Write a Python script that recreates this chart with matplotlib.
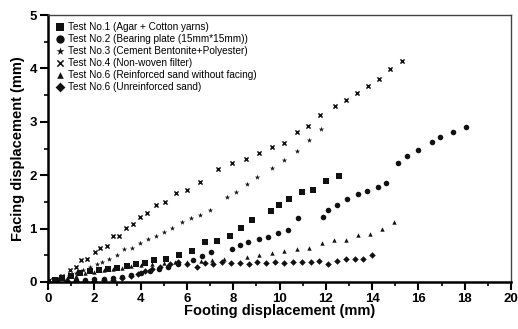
import matplotlib
matplotlib.use("Agg")
import matplotlib.pyplot as plt
from matplotlib.ticker import MultipleLocator

plt.rcParams['font.family'] = ['Liberation Sans', 'DejaVu Sans']

labels = [
    "Test No.1 (Agar + Cotton yarns)",
    "Test No.2 (Bearing plate (15mm*15mm))",
    "Test No.3 (Cement Bentonite+Polyester)",
    "Test No.4 (Non-woven filter)",
    "Test No.6 (Reinforced sand without facing)",
    "Test No.6 (Unreinforced sand)",
]

t1_x = [0, 0.3, 0.6, 1.0, 1.4, 1.8, 2.2, 2.6, 3.0, 3.4, 3.79, 4.2, 4.58, 5.1, 5.68, 6.23,
        6.80, 7.31, 7.85, 8.32, 8.81, 9.63, 9.99, 10.43, 10.97, 11.43, 12.01, 12.58]
t1_y = [0, 0.03, 0.07, 0.12, 0.17, 0.2, 0.22, 0.25, 0.27, 0.3, 0.33, 0.36, 0.41, 0.43, 0.51, 0.58,
        0.74, 0.77, 0.86, 1.01, 1.17, 1.33, 1.45, 1.55, 1.69, 1.73, 1.89, 1.98]

t2_x = [0, 0.4, 0.8, 1.2, 1.6, 2.0, 2.4, 2.8, 3.2, 3.6, 4.0, 4.4, 4.8, 5.2, 5.6, 6.25, 6.64,
        7.03, 7.95, 8.28, 8.66, 9.1, 9.52, 9.94, 10.38, 10.81, 11.89, 12.11, 12.47, 12.9, 13.38,
        13.77, 14.24, 14.6, 15.13, 15.51, 15.98, 16.6, 16.95, 17.51, 18.04]
t2_y = [0, 0.01, 0.02, 0.03, 0.04, 0.05, 0.06, 0.08, 0.1, 0.13, 0.16, 0.2, 0.25, 0.29, 0.34, 0.42, 0.48,
        0.56, 0.62, 0.69, 0.74, 0.80, 0.84, 0.92, 0.98, 1.19, 1.22, 1.34, 1.45, 1.55, 1.64,
        1.70, 1.78, 1.86, 2.23, 2.36, 2.47, 2.63, 2.71, 2.80, 2.90]

t3_x = [0, 0.3, 0.6, 0.9, 1.2, 1.5, 1.8, 2.1, 2.35, 2.62, 2.97, 3.30, 3.63, 3.99, 4.33, 4.67, 5.0,
        5.37, 5.78, 6.16, 6.57, 6.99, 7.72, 8.10, 8.60, 9.04, 9.69, 10.19, 10.74, 11.29, 11.79]
t3_y = [0, 0.04, 0.08, 0.12, 0.17, 0.22, 0.28, 0.33, 0.38, 0.44, 0.50, 0.61, 0.64, 0.73, 0.81, 0.86, 0.94,
        1.01, 1.12, 1.19, 1.25, 1.35, 1.60, 1.69, 1.83, 1.97, 2.14, 2.28, 2.45, 2.66, 2.86]

t4_x = [0, 0.2, 0.4, 0.6, 0.95, 1.21, 1.44, 1.70, 2.03, 2.25, 2.54, 2.82, 3.08, 3.37, 3.69, 3.97,
        4.28, 4.65, 5.04, 5.52, 5.99, 6.55, 7.36, 7.94, 8.57, 9.10, 9.69, 10.19, 10.74, 11.24,
        11.75, 12.38, 12.86, 13.36, 13.84, 14.28, 14.79, 15.28]
t4_y = [0, 0.03, 0.06, 0.12, 0.23, 0.28, 0.42, 0.43, 0.56, 0.64, 0.67, 0.86, 0.86, 1.01, 1.09, 1.21,
        1.29, 1.44, 1.49, 1.66, 1.73, 1.88, 2.12, 2.22, 2.31, 2.41, 2.52, 2.61, 2.81, 2.93,
        3.12, 3.29, 3.41, 3.54, 3.67, 3.80, 3.98, 4.14]

t5_x = [0, 0.4, 0.8, 1.2, 1.6, 2.0, 2.4, 2.8, 3.2, 3.6, 4.0, 4.5, 5.0, 5.5, 6.0, 6.6, 7.1, 7.6,
        8.58, 9.11, 9.66, 10.2, 10.74, 11.27, 11.82, 12.35, 12.87, 13.39, 13.91, 14.44, 14.96]
t5_y = [0, 0.04, 0.08, 0.12, 0.16, 0.19, 0.22, 0.25, 0.27, 0.3, 0.32, 0.34, 0.35, 0.37, 0.38, 0.4, 0.42, 0.44,
        0.47, 0.50, 0.55, 0.58, 0.61, 0.64, 0.73, 0.78, 0.78, 0.88, 0.89, 0.99, 1.12]

t6_x = [0, 0.4, 0.8, 1.2, 1.6, 2.0, 2.4, 2.8, 3.2, 3.6, 3.9, 4.2, 4.5, 4.84, 5.27, 5.63, 5.99, 6.42,
        6.8, 7.14, 7.52, 7.9, 8.29, 8.67, 9.03, 9.42, 9.81, 10.21, 10.57, 10.96, 11.35, 11.72,
        12.11, 12.5, 12.87, 13.26, 13.62, 13.98]
t6_y = [0, 0.0, 0.01, 0.01, 0.02, 0.02, 0.03, 0.04, 0.07, 0.11, 0.15, 0.2, 0.25, 0.29, 0.33, 0.37, 0.34, 0.28,
        0.36, 0.34, 0.38, 0.36, 0.35, 0.34, 0.37, 0.36, 0.38, 0.36, 0.37, 0.37, 0.37, 0.40,
        0.34, 0.39, 0.44, 0.43, 0.44, 0.51]

series = [(t1_x, t1_y), (t2_x, t2_y), (t3_x, t3_y), (t4_x, t4_y), (t5_x, t5_y), (t6_x, t6_y)]
markers = ['s', 'o', '*', 'x', '^', 'D']
sizes = [18, 16, 16, 9, 10, 11]

fig = plt.figure(figsize=(5.18, 3.29), dpi=100)
ax = fig.add_axes([48/518, 1 - 282/329, (511-48)/518, (282-15)/329])

for (xs, ys), m, s, lab in zip(series, markers, sizes, labels):
    if m == 'x':
        ax.scatter(xs, ys, marker=m, s=s, color='#111111', linewidths=1.1, label=lab)
    else:
        ax.scatter(xs, ys, marker=m, s=s, color='#111111', linewidths=0, label=lab)

ax.set_xlim(0, 20)
ax.set_ylim(0, 5)
ax.xaxis.set_major_locator(MultipleLocator(2))
ax.xaxis.set_minor_locator(MultipleLocator(1))
ax.yaxis.set_major_locator(MultipleLocator(1))
ax.yaxis.set_minor_locator(MultipleLocator(0.5))
ax.tick_params(which='major', direction='out', length=6, width=1.5, labelsize=9.5, pad=2)
ax.tick_params(which='minor', direction='out', length=3, width=1.2)
ax.tick_params(top=False, right=False)
for lab in ax.get_xticklabels() + ax.get_yticklabels():
    lab.set_fontweight('bold')

ax.spines['left'].set_linewidth(1.8)
ax.spines['bottom'].set_linewidth(1.8)
ax.spines['top'].set_linewidth(1.0)
ax.spines['right'].set_linewidth(1.0)
ax.spines['top'].set_color('#444444')
ax.spines['right'].set_color('#444444')

ax.set_xlabel("Footing displacement (mm)", fontsize=10.5, fontweight='bold', labelpad=-1)
ax.set_ylabel("Facing displacement (mm)", fontsize=10.5, fontweight='bold', labelpad=3)

leg = ax.legend(loc='upper left', frameon=False, fontsize=7.2, handletextpad=0.3,
                labelspacing=0.2, borderaxespad=0.3, handlelength=1.0,
                markerscale=1.5)

fig.savefig("out.png", dpi=100)
